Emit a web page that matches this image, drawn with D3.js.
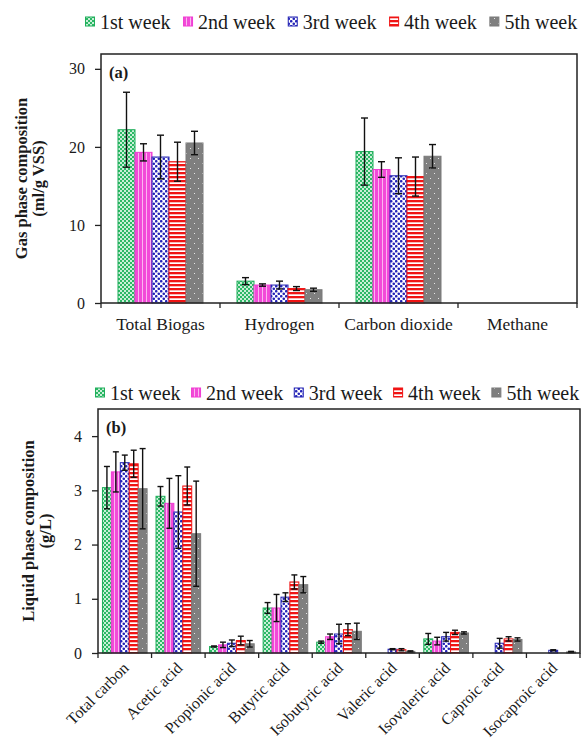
<!DOCTYPE html>
<html>
<head>
<meta charset="utf-8">
<script src="https://cdn.jsdelivr.net/npm/d3@7"></script>
<style>
  html, body { margin: 0; padding: 0; background: #fff; }
  svg { display: block; }
</style>
</head>
<body>
<svg id="chart" width="587" height="747"></svg>
<script>
// Sampling weeks (series)
const weeks = ["1st week", "2nd week", "3rd week", "4th week", "5th week"];

// Panel (a): gas phase composition, ml/g VSS
const gasCategories = ["Total Biogas", "Hydrogen", "Carbon dioxide", "Methane"];
const gasMeans = [
  [22.2, 2.8, 19.4, 0],   // 1st week
  [19.3, 2.3, 17.1, 0],   // 2nd week
  [18.7, 2.3, 16.3, 0],   // 3rd week
  [18.1, 1.85, 16.2, 0],  // 4th week
  [20.5, 1.7, 18.8, 0]    // 5th week
];
const gasErrors = [
  [4.8, 0.45, 4.3, 0],
  [1.1, 0.15, 1.0, 0],
  [2.8, 0.5, 2.3, 0],
  [2.5, 0.25, 2.5, 0],
  [1.5, 0.2, 1.5, 0]
];
const gasTicks = [0, 10, 20, 30];

// Panel (b): liquid phase composition, g/L
const liquidCategories = ["Total carbon", "Acetic acid", "Propionic acid", "Butyric acid",
  "Isobutyric acid", "Valeric acid", "Isovaleric acid", "Caproic acid", "Isocaproic acid"];
const liquidMeans = [
  [3.05, 2.89, 0.12, 0.83, 0.20, 0, 0.26, 0, 0],          // 1st week
  [3.34, 2.76, 0.15, 0.83, 0.30, 0, 0.22, 0, 0],          // 2nd week
  [3.51, 2.60, 0.18, 1.03, 0.35, 0.07, 0.30, 0.18, 0.05], // 3rd week
  [3.49, 3.08, 0.23, 1.31, 0.43, 0.06, 0.38, 0.26, 0],    // 4th week
  [3.03, 2.20, 0.17, 1.26, 0.40, 0.03, 0.37, 0.25, 0.02]  // 5th week
];
const liquidErrors = [
  [0.39, 0.18, 0.01, 0.10, 0.02, 0, 0.10, 0, 0],
  [0.37, 0.46, 0.05, 0.25, 0.05, 0, 0.07, 0, 0],
  [0.14, 0.67, 0.06, 0.08, 0.18, 0.01, 0.08, 0.09, 0.01],
  [0.25, 0.35, 0.08, 0.13, 0.11, 0.02, 0.04, 0.04, 0],
  [0.74, 0.97, 0.06, 0.15, 0.15, 0.01, 0.02, 0.03, 0.01]
];
const liquidTicks = [0, 1, 2, 3, 4];

const FONT = "Liberation Serif";
const INK = "#1a1a1a";

const svg = d3.select("#chart").attr("font-family", FONT);
const defs = svg.append("defs");

// Hatched fills, one per week
const seriesStyle = [
  { id: "p1", stroke: "#1fae5a" },
  { id: "p2", stroke: "#f03cd2" },
  { id: "p3", stroke: "#2222b4" },
  { id: "p4", stroke: "#f01414" },
  { id: "p5", stroke: "#7a7a7a" }
];

// 1st week: green checker
let p = defs.append("pattern").attr("id", "p1").attr("patternUnits", "userSpaceOnUse")
  .attr("width", 4).attr("height", 4);
p.append("rect").attr("width", 4).attr("height", 4).attr("fill", "#c9efd7");
p.append("rect").attr("width", 2).attr("height", 2).attr("fill", "#2cb866");
p.append("rect").attr("x", 2).attr("y", 2).attr("width", 2).attr("height", 2).attr("fill", "#2cb866");

// 2nd week: magenta with pale vertical lines
p = defs.append("pattern").attr("id", "p2").attr("patternUnits", "userSpaceOnUse")
  .attr("width", 4).attr("height", 4);
p.append("rect").attr("width", 4).attr("height", 4).attr("fill", "#f24ad8");
p.append("rect").attr("x", 2).attr("width", 1).attr("height", 4).attr("fill", "#fbb6f0");

// 3rd week: blue spots on white
p = defs.append("pattern").attr("id", "p3").attr("patternUnits", "userSpaceOnUse")
  .attr("width", 5).attr("height", 5);
p.append("rect").attr("width", 5).attr("height", 5).attr("fill", "#ffffff");
p.append("circle").attr("cx", 1.25).attr("cy", 1.25).attr("r", 1.3).attr("fill", "#2424b8");
p.append("circle").attr("cx", 3.75).attr("cy", 3.75).attr("r", 1.3).attr("fill", "#2424b8");

// 4th week: red horizontal stripes
p = defs.append("pattern").attr("id", "p4").attr("patternUnits", "userSpaceOnUse")
  .attr("width", 4).attr("height", 4);
p.append("rect").attr("width", 4).attr("height", 4).attr("fill", "#ffffff");
p.append("rect").attr("width", 4).attr("height", 2.3).attr("fill", "#f01414");

// 5th week: grey with sparse white dots
p = defs.append("pattern").attr("id", "p5").attr("patternUnits", "userSpaceOnUse")
  .attr("width", 8).attr("height", 10);
p.append("rect").attr("width", 8).attr("height", 10).attr("fill", "#7f7f7f");
p.append("rect").attr("x", 2).attr("y", 3).attr("width", 1).attr("height", 1).attr("fill", "#e6e6e6");
p.append("rect").attr("x", 6).attr("y", 8).attr("width", 1).attr("height", 1).attr("fill", "#e6e6e6");

function drawLegend(x0, yMid, gap) {
  const g = svg.append("g");
  let x = x0;
  weeks.forEach((w, i) => {
    g.append("rect")
      .attr("x", x + 0.5).attr("y", yMid - 5).attr("width", 9).attr("height", 9)
      .attr("fill", `url(#${seriesStyle[i].id})`)
      .attr("stroke", seriesStyle[i].stroke).attr("stroke-width", 1);
    const t = g.append("text")
      .attr("x", x + 15).attr("y", yMid).attr("dy", "0.35em")
      .attr("font-family", FONT).attr("font-size", 20).attr("fill", INK).text(w);
    x += 15 + t.node().getComputedTextLength() + gap;
  });
}

function drawPanel(opt) {
  const { left, right, top, bottom, categories, means, errors, ymax, ticks,
          outerPad, capW, label, title, titleX, titleGap, rotated } = opt;
  const g = svg.append("g");

  const x = d3.scaleBand().domain(categories).range([left, right]).paddingInner(0).paddingOuter(0);
  const xs = d3.scaleBand().domain(weeks).range([0, x.bandwidth()]).paddingInner(0).paddingOuter(outerPad);
  const y = d3.scaleLinear().domain([0, ymax]).range([bottom, top]);

  // bars
  weeks.forEach((w, si) => {
    const sg = g.append("g");
    categories.forEach((c, ci) => {
      const v = means[si][ci];
      if (v <= 0) return;
      sg.append("rect")
        .attr("x", x(c) + xs(w)).attr("y", y(v))
        .attr("width", xs.bandwidth()).attr("height", y(0) - y(v))
        .attr("fill", `url(#${seriesStyle[si].id})`)
        .attr("stroke", seriesStyle[si].stroke).attr("stroke-width", 1);
    });
  });

  // error bars
  weeks.forEach((w, si) => {
    categories.forEach((c, ci) => {
      const v = means[si][ci], e = errors[si][ci];
      if (v <= 0 || e <= 0) return;
      const cx = x(c) + xs(w) + xs.bandwidth() / 2;
      const y1 = y(v + e), y2 = y(Math.max(0, v - e));
      g.append("line").attr("x1", cx).attr("x2", cx).attr("y1", y1).attr("y2", y2)
        .attr("stroke", "#111").attr("stroke-width", 1.4);
      [y1, y2].forEach(yy => g.append("line")
        .attr("x1", cx - capW / 2).attr("x2", cx + capW / 2).attr("y1", yy).attr("y2", yy)
        .attr("stroke", "#111").attr("stroke-width", 1.4));
    });
  });

  // frame
  g.append("rect").attr("x", left).attr("y", top)
    .attr("width", right - left).attr("height", bottom - top)
    .attr("fill", "none").attr("stroke", "#222").attr("stroke-width", 1.5);

  // y axis
  const ya = d3.axisLeft(y).tickValues(ticks).tickSize(6).tickPadding(10).tickFormat(d3.format("d"));
  const yg = g.append("g").attr("transform", `translate(${left},0)`).call(ya)
    .attr("font-family", FONT);
  yg.select(".domain").remove();
  yg.selectAll(".tick line").attr("stroke", "#222").attr("stroke-width", 1.3);
  yg.selectAll("text").attr("font-size", 16).attr("fill", INK).attr("font-family", FONT);

  // category boundary ticks
  const bounds = categories.map(c => x(c)).concat([right]);
  g.selectAll(null).data(bounds).enter().append("line")
    .attr("x1", d => d).attr("x2", d => d).attr("y1", bottom).attr("y2", bottom + 5)
    .attr("stroke", "#222").attr("stroke-width", 1.3);

  // category labels
  if (rotated) {
    categories.forEach(c => {
      const cx = x(c) + x.bandwidth() / 2;
      g.append("text")
        .attr("transform", `translate(${cx + 5},${bottom + 16}) rotate(-45)`)
        .attr("text-anchor", "end").attr("font-family", FONT).attr("font-size", 16)
        .attr("fill", INK).text(c);
    });
  } else {
    categories.forEach(c => {
      g.append("text")
        .attr("x", x(c) + x.bandwidth() / 2).attr("y", bottom + 21)
        .attr("dy", "0.35em").attr("text-anchor", "middle")
        .attr("font-family", FONT).attr("font-size", 17.5).attr("fill", INK).text(c);
    });
  }

  // panel tag
  g.append("text").attr("x", left + 8).attr("y", top + 24)
    .attr("font-family", FONT).attr("font-size", 16.5).attr("font-weight", "bold")
    .attr("fill", INK).text(label);

  // y title (two lines)
  const cy = (top + bottom) / 2;
  title.forEach((line, i) => {
    g.append("text")
      .attr("transform", `translate(${titleX + i * titleGap},${cy}) rotate(-90)`)
      .attr("text-anchor", "middle").attr("font-family", FONT)
      .attr("font-size", 16.5).attr("font-weight", "bold")
      .attr("fill", INK).text(line);
  });
}

drawLegend(85, 22, 12.5);
drawPanel({
  left: 101, right: 577, top: 54, bottom: 303,
  categories: gasCategories, means: gasMeans, errors: gasErrors,
  ymax: 31.9, ticks: gasTicks, outerPad: 1.0, capW: 7,
  label: "(a)", title: ["Gas phase composition", "(ml/g VSS)"], titleX: 27, titleGap: 17,
  rotated: false
});

drawLegend(95, 393, 10.5);
drawPanel({
  left: 98, right: 580, top: 409, bottom: 653,
  categories: liquidCategories, means: liquidMeans, errors: liquidErrors,
  ymax: 4.5, ticks: liquidTicks, outerPad: 0.5, capW: 6,
  label: "(b)", title: ["Liquid phase composition", "(g/L)"], titleX: 34, titleGap: 17,
  rotated: true
});
</script>
</body>
</html>
